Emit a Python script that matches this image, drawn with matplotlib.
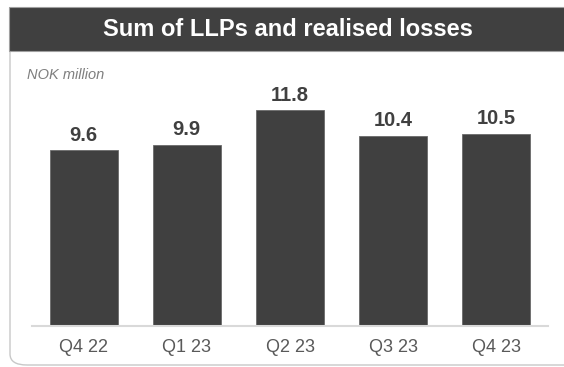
import matplotlib
matplotlib.use("Agg")
import matplotlib.pyplot as plt
from matplotlib.patches import FancyBboxPatch, Rectangle

# Quarterly sum of loan loss provisions and realised losses (NOK million)
quarters = ["Q4 22", "Q1 23", "Q2 23", "Q3 23", "Q4 23"]
values = [9.6, 9.9, 11.8, 10.4, 10.5]

title = "Sum of LLPs and realised losses"
unit_label = "NOK million"

DARK = "#404040"
W, H = 564, 367
plt.rcParams["font.family"] = ["Liberation Sans", "DejaVu Sans"]

fig = plt.figure(figsize=(W / 100, H / 100), dpi=100)
fig.patch.set_facecolor("white")


def fx(px):
    return px / W


def fy(py):
    return 1 - py / H


# Rounded panel outline
panel = FancyBboxPatch((fx(10), fy(365)), fx(600) - fx(10), fy(8) - fy(365),
                       boxstyle="round,pad=0,rounding_size=0.03",
                       transform=fig.transFigure, facecolor="none",
                       edgecolor="#c8c8c8", linewidth=1.0, zorder=0)
fig.patches.append(panel)

# Header band
header = Rectangle((fx(9), fy(51)), fx(600) - fx(9), fy(7) - fy(51),
                   transform=fig.transFigure, facecolor=DARK,
                   edgecolor="#a0a0a0", linewidth=0.8, zorder=1)
fig.patches.append(header)
fig.text(fx(288), fy(30), title, color="white", fontsize=17,
         fontweight="bold", ha="center", va="center", zorder=2)

fig.text(fx(27), fy(75), unit_label, color="#7f7f7f", fontsize=10.5,
         fontstyle="italic", ha="left", va="center")

# Bar chart area
ax = fig.add_axes([fx(32), fy(326), fx(548) - fx(32), fy(70) - fy(326)])
ax.set_zorder(3)
ax.set_facecolor("none")
x = range(len(quarters))
bars = ax.bar(x, values, width=0.66, color=DARK, edgecolor="#6a6a6a",
              linewidth=0.6, zorder=2)
ax.set_xlim(-0.5, len(quarters) - 0.5)
ax.set_ylim(0, 14)

for xi, v in zip(x, values):
    ax.annotate(f"{v:.1f}", (xi, v), xytext=(0, 4), textcoords="offset points",
                ha="center", va="bottom", fontsize=14.5, fontweight="bold",
                color=DARK)

ax.set_xticks(list(x))
ax.set_xticklabels(quarters, fontsize=13, color="#595959")
ax.tick_params(axis="x", length=0, pad=9)
ax.set_yticks([])
for side in ("left", "right", "top"):
    ax.spines[side].set_visible(False)
ax.spines["bottom"].set_color("#d9d9d9")
ax.spines["bottom"].set_linewidth(1.5)

fig.savefig("out.png", dpi=100, facecolor="white")
